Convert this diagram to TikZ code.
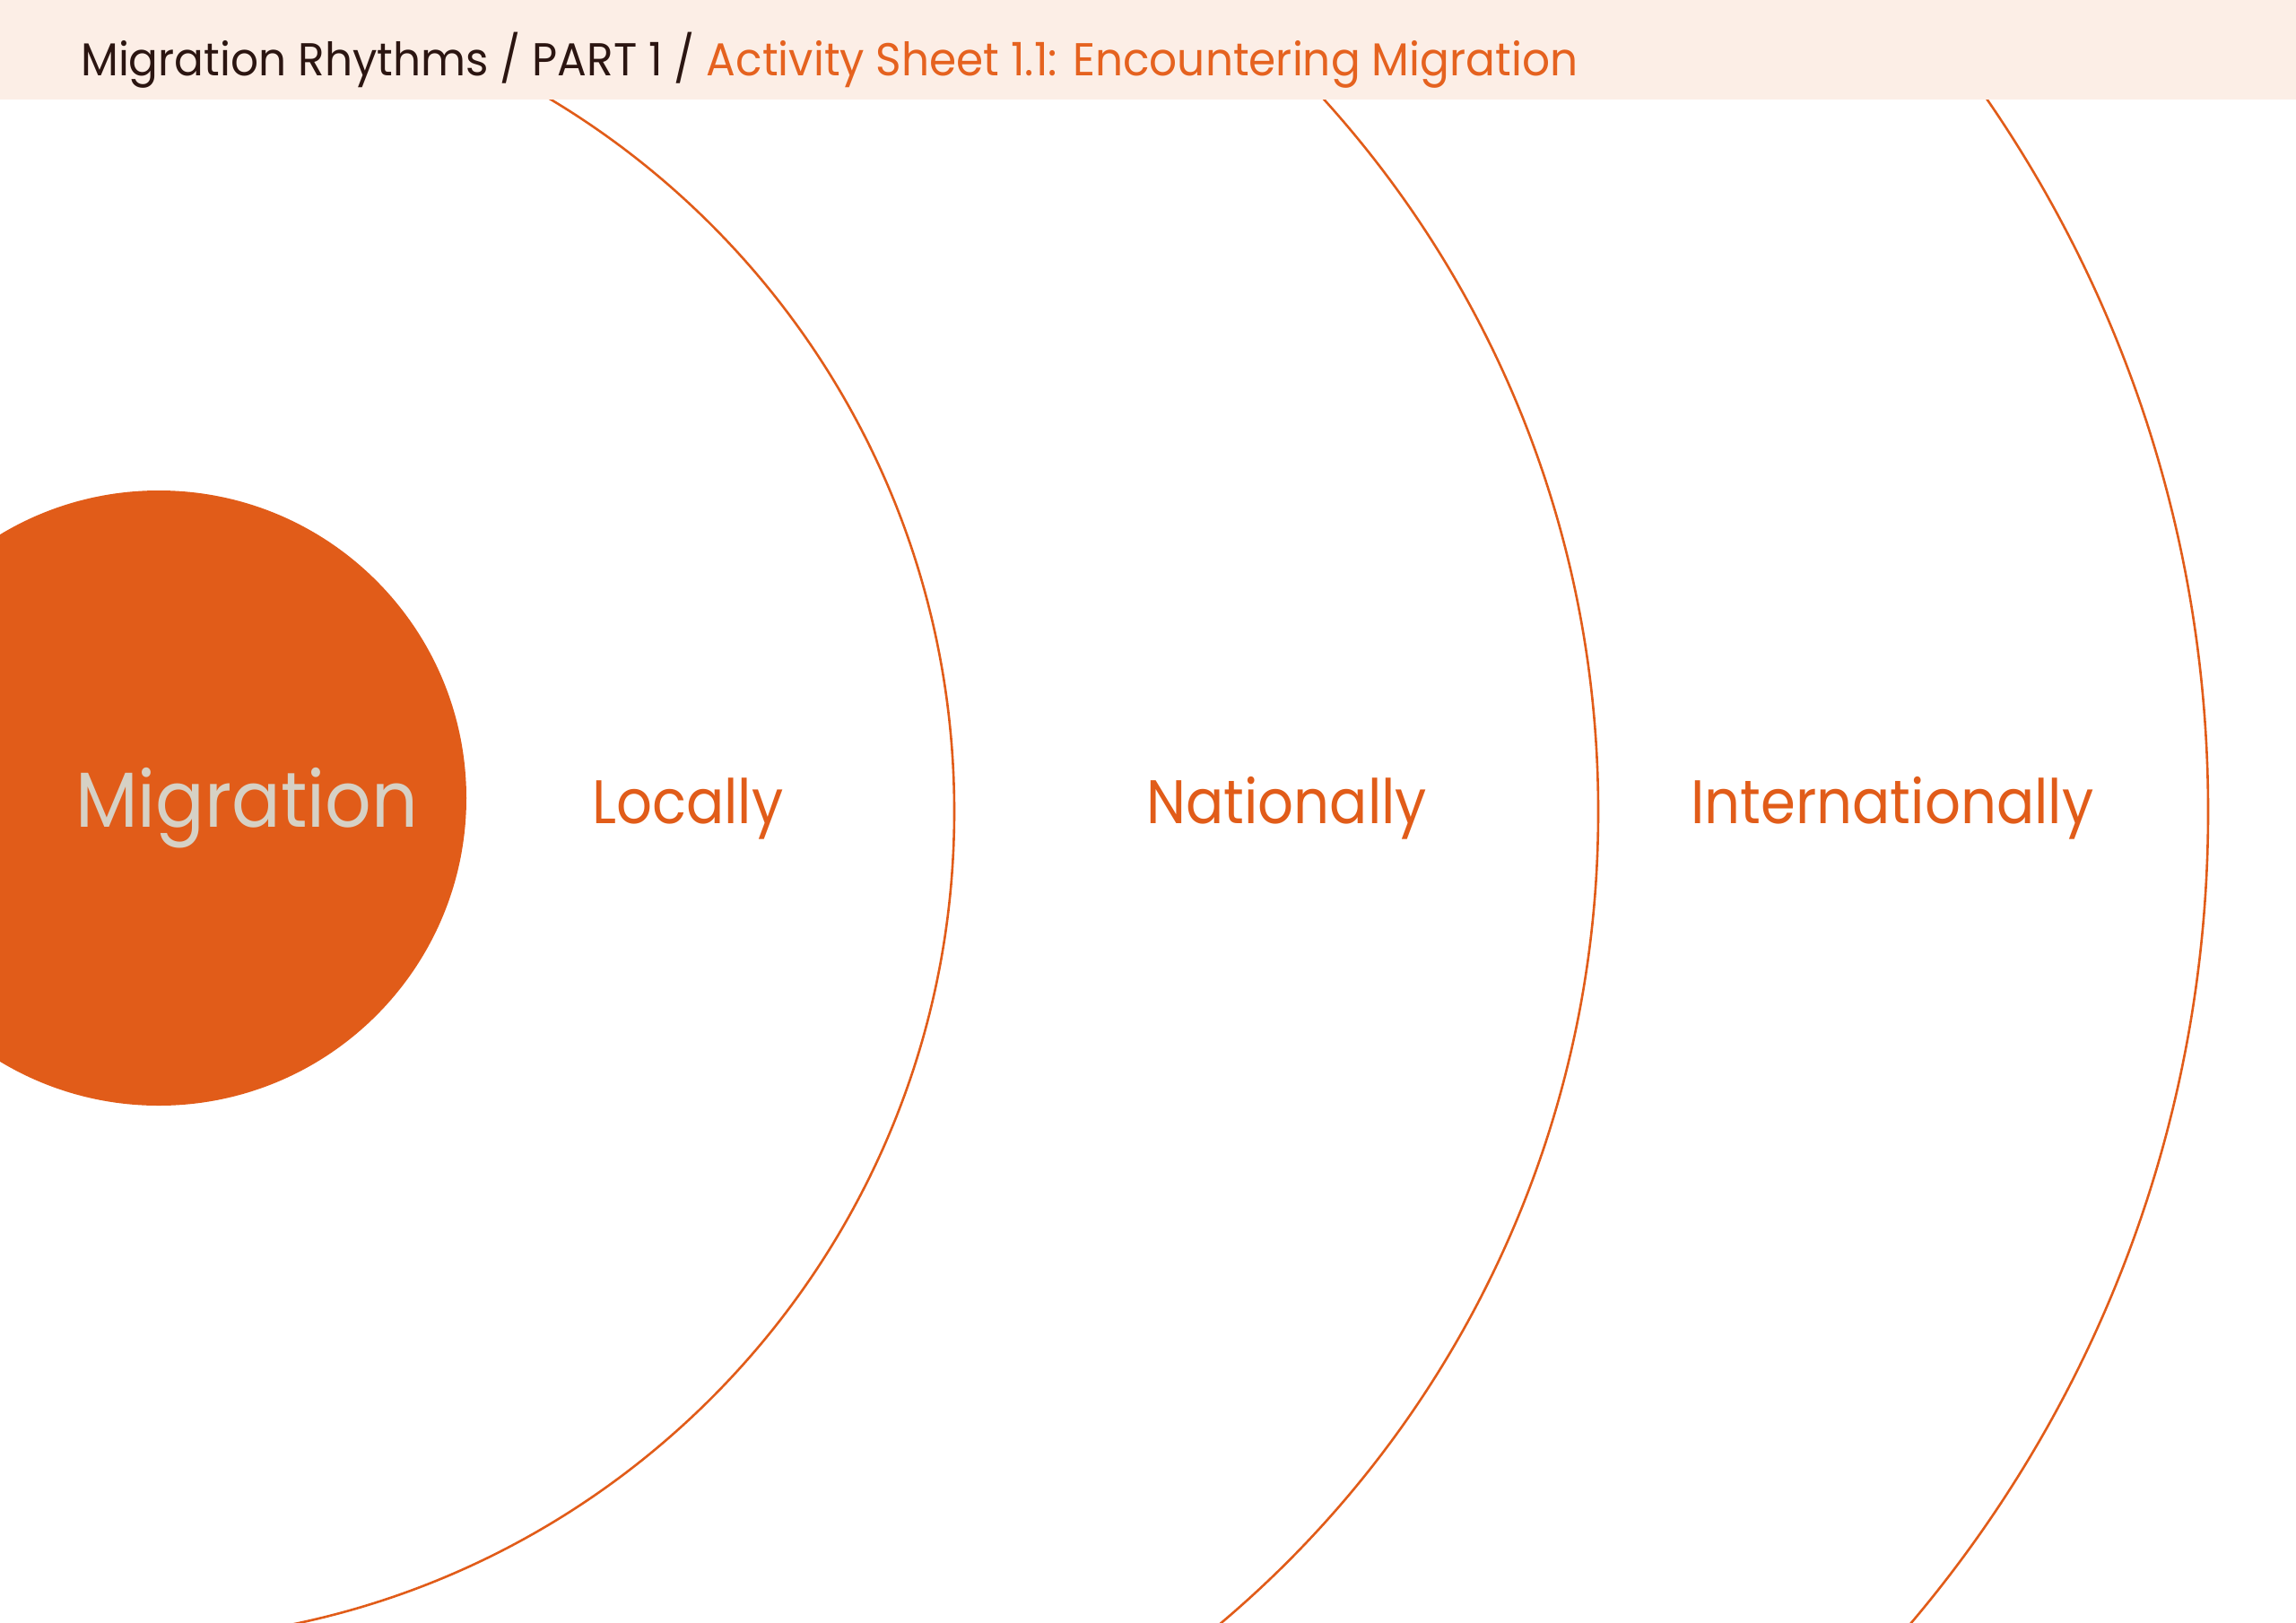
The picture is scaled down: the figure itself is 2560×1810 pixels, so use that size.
\documentclass[tikz,border=0pt]{standalone}
\usepackage{fontspec}
\setmainfont{Poppins}
\newfontfamily\hdrfont[FakeStretch=0.945]{Poppins}
\newfontfamily\lblfont[FakeStretch=0.912]{Poppins}
\newfontfamily\migfont[FakeStretch=0.93]{Poppins}
\definecolor{mrorange}{HTML}{E15C19}
\definecolor{mrtitle}{HTML}{E5621F}
\definecolor{headerbg}{HTML}{FCEEE6}
\definecolor{mrdark}{HTML}{2B1511}
\definecolor{mrgrey}{HTML}{D6D1C5}
\tikzset{
  ring/.style={draw=mrorange, line width=2.6pt},
  hdrtext/.style={inner sep=0pt, anchor=base west, text=mrdark, font=\hdrfont\fontsize{51.4}{60}\selectfont},
  ringlabel/.style={inner sep=0pt, anchor=base west, text=mrorange, font=\lblfont\fontsize{68.6}{80}\selectfont},
  centrelabel/.style={inner sep=0pt, anchor=base west, text=mrgrey, font=\migfont\fontsize{87}{100}\selectfont}
}
\begin{document}
\begin{tikzpicture}[x=1pt,y=-1pt]
\useasboundingbox (0,0) rectangle (2560,1810);
\fill[white] (0,0) rectangle (2560,1810);
\begin{scope}
  \clip (0,0) rectangle (2560,1810);
  \draw[ring] (138.5,905) circle[radius=925.5pt];
  \draw[ring] (598,905) circle[radius=1184pt];
  \draw[ring] (1060,905) circle[radius=1402pt];
  \fill[mrorange] (177,890) circle[radius=343pt];
\end{scope}
\fill[headerbg] (0,0) rectangle (2560,111);
\node[hdrtext] (title) at (90,84) {Migration Rhythms / PART 1 / \textcolor{mrtitle}{Activity Sheet 1.1: Encountering Migration}};
\node[centrelabel] (migration) at (84,922) {Migration};
\node[ringlabel] (locally) at (660,918) {Locally};
\node[ringlabel] (nationally) at (1278,918) {Nationally};
\node[ringlabel] (internationally) at (1885,918) {Internationally};
\end{tikzpicture}
\end{document}
